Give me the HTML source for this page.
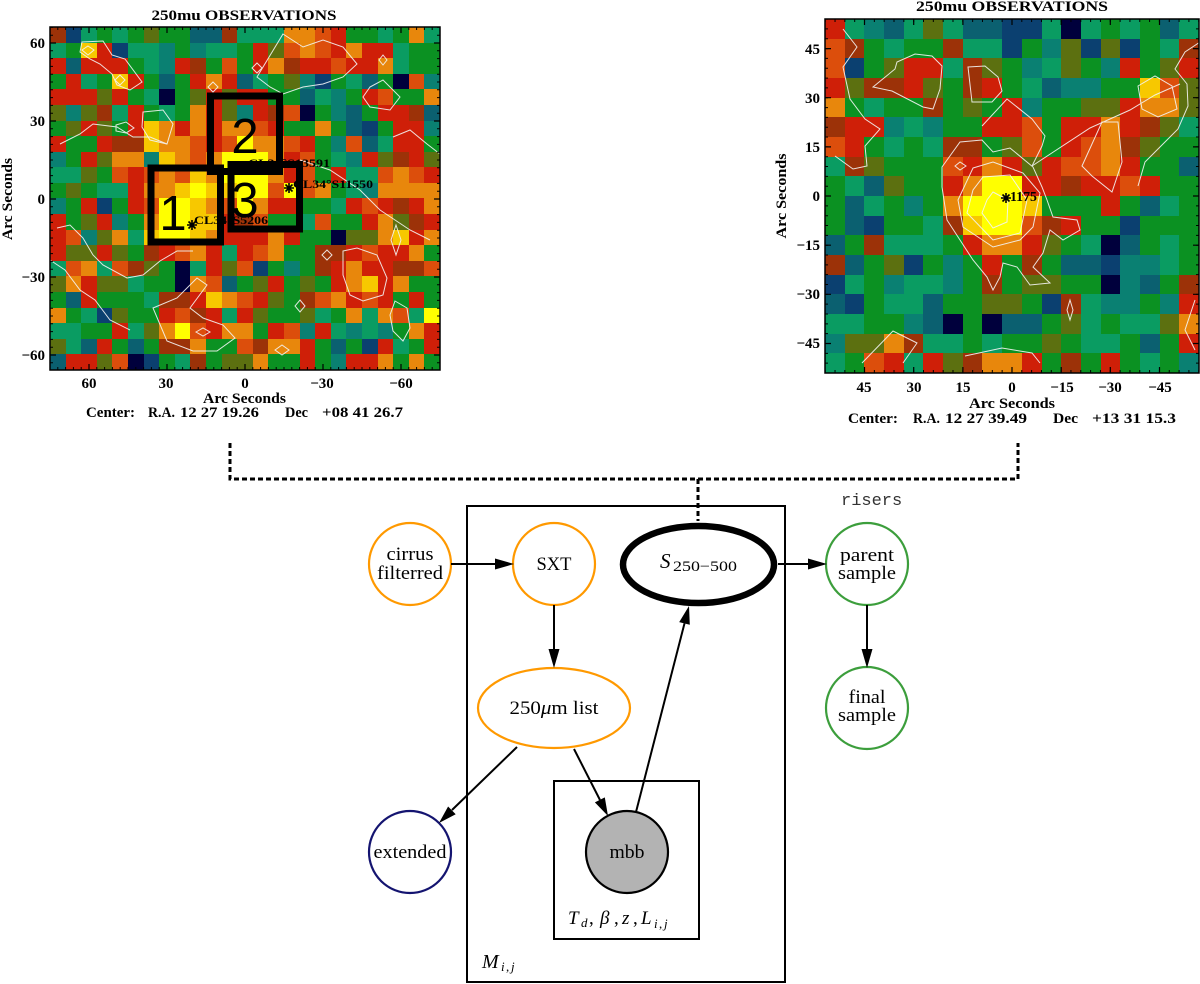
<!DOCTYPE html>
<html><head><meta charset="utf-8">
<style>
html,body{margin:0;padding:0;background:#fff;}
body{width:1200px;height:984px;position:relative;overflow:hidden;}
.hm{position:absolute;display:grid;}
.hm i{display:block;}
#L{left:50px;top:27px;width:390px;height:343px;grid-template-columns:repeat(25,1fr);grid-template-rows:repeat(22,1fr);}
#R{left:825px;top:19px;width:374px;height:354px;grid-template-columns:repeat(19,1fr);grid-template-rows:repeat(18,1fr);}
.y{background:#ffff00}.g{background:#f7c800}.o{background:#e8870c}.q{background:#dc4e0c}.r{background:#cf1f08}.d{background:#9c3208}.l{background:#5c7010}.e{background:#0b9122}.a{background:#0a9c62}.t{background:#0a8072}.k{background:#0b6070}.b{background:#0b4070}.n{background:#00003c}
svg{position:absolute;left:0;top:0;}
</style></head><body>
<div id="L" class="hm">
<i class=d></i><i class=b></i><i class=a></i><i class=e></i><i class=a></i><i class=e></i><i class=l></i><i class=e></i><i class=e></i><i class=k></i><i class=k></i><i class=d></i><i class=a></i><i class=a></i><i class=a></i><i class=o></i><i class=o></i><i class=q></i><i class=r></i><i class=e></i><i class=e></i><i class=a></i><i class=e></i><i class=o></i><i class=a></i>
<i class=a></i><i class=e></i><i class=g></i><i class=r></i><i class=b></i><i class=a></i><i class=a></i><i class=t></i><i class=e></i><i class=t></i><i class=a></i><i class=a></i><i class=e></i><i class=r></i><i class=l></i><i class=q></i><i class=o></i><i class=q></i><i class=r></i><i class=o></i><i class=r></i><i class=r></i><i class=a></i><i class=e></i><i class=e></i>
<i class=r></i><i class=k></i><i class=r></i><i class=r></i><i class=r></i><i class=e></i><i class=a></i><i class=t></i><i class=r></i><i class=d></i><i class=e></i><i class=q></i><i class=e></i><i class=r></i><i class=o></i><i class=d></i><i class=r></i><i class=r></i><i class=q></i><i class=r></i><i class=r></i><i class=o></i><i class=a></i><i class=e></i><i class=e></i>
<i class=e></i><i class=r></i><i class=a></i><i class=e></i><i class=g></i><i class=r></i><i class=e></i><i class=k></i><i class=e></i><i class=r></i><i class=o></i><i class=r></i><i class=k></i><i class=a></i><i class=e></i><i class=l></i><i class=t></i><i class=b></i><i class=e></i><i class=a></i><i class=k></i><i class=e></i><i class=n></i><i class=q></i><i class=t></i>
<i class=r></i><i class=r></i><i class=r></i><i class=l></i><i class=r></i><i class=e></i><i class=a></i><i class=n></i><i class=e></i><i class=l></i><i class=r></i><i class=l></i><i class=r></i><i class=r></i><i class=e></i><i class=e></i><i class=k></i><i class=a></i><i class=t></i><i class=e></i><i class=r></i><i class=q></i><i class=e></i><i class=e></i><i class=o></i>
<i class=l></i><i class=t></i><i class=l></i><i class=d></i><i class=a></i><i class=r></i><i class=e></i><i class=a></i><i class=e></i><i class=o></i><i class=r></i><i class=l></i><i class=t></i><i class=r></i><i class=d></i><i class=q></i><i class=n></i><i class=e></i><i class=t></i><i class=k></i><i class=e></i><i class=r></i><i class=r></i><i class=d></i><i class=k></i>
<i class=e></i><i class=l></i><i class=r></i><i class=l></i><i class=e></i><i class=r></i><i class=g></i><i class=o></i><i class=r></i><i class=o></i><i class=r></i><i class=o></i><i class=o></i><i class=q></i><i class=r></i><i class=e></i><i class=e></i><i class=o></i><i class=e></i><i class=k></i><i class=b></i><i class=e></i><i class=r></i><i class=r></i><i class=t></i>
<i class=r></i><i class=e></i><i class=e></i><i class=r></i><i class=d></i><i class=d></i><i class=g></i><i class=o></i><i class=o></i><i class=q></i><i class=r></i><i class=q></i><i class=y></i><i class=o></i><i class=o></i><i class=q></i><i class=r></i><i class=e></i><i class=t></i><i class=q></i><i class=k></i><i class=a></i><i class=r></i><i class=r></i><i class=e></i>
<i class=t></i><i class=e></i><i class=r></i><i class=l></i><i class=o></i><i class=o></i><i class=t></i><i class=g></i><i class=o></i><i class=q></i><i class=o></i><i class=y></i><i class=y></i><i class=y></i><i class=o></i><i class=r></i><i class=q></i><i class=e></i><i class=a></i><i class=t></i><i class=r></i><i class=l></i><i class=d></i><i class=r></i><i class=l></i>
<i class=a></i><i class=a></i><i class=l></i><i class=e></i><i class=q></i><i class=r></i><i class=q></i><i class=o></i><i class=q></i><i class=g></i><i class=o></i><i class=y></i><i class=y></i><i class=y></i><i class=o></i><i class=r></i><i class=q></i><i class=e></i><i class=r></i><i class=a></i><i class=a></i><i class=q></i><i class=o></i><i class=q></i><i class=r></i>
<i class=e></i><i class=l></i><i class=e></i><i class=a></i><i class=a></i><i class=r></i><i class=o></i><i class=o></i><i class=g></i><i class=y></i><i class=g></i><i class=g></i><i class=y></i><i class=y></i><i class=q></i><i class=y></i><i class=q></i><i class=o></i><i class=e></i><i class=a></i><i class=t></i><i class=o></i><i class=o></i><i class=o></i><i class=o></i>
<i class=t></i><i class=e></i><i class=r></i><i class=b></i><i class=e></i><i class=r></i><i class=q></i><i class=y></i><i class=y></i><i class=g></i><i class=o></i><i class=q></i><i class=y></i><i class=o></i><i class=r></i><i class=r></i><i class=e></i><i class=e></i><i class=a></i><i class=r></i><i class=q></i><i class=r></i><i class=d></i><i class=r></i><i class=o></i>
<i class=r></i><i class=e></i><i class=l></i><i class=r></i><i class=t></i><i class=e></i><i class=o></i><i class=y></i><i class=y></i><i class=g></i><i class=g></i><i class=r></i><i class=d></i><i class=q></i><i class=e></i><i class=e></i><i class=a></i><i class=q></i><i class=e></i><i class=e></i><i class=r></i><i class=o></i><i class=l></i><i class=d></i><i class=r></i>
<i class=r></i><i class=q></i><i class=t></i><i class=l></i><i class=o></i><i class=a></i><i class=g></i><i class=y></i><i class=y></i><i class=g></i><i class=o></i><i class=r></i><i class=r></i><i class=r></i><i class=o></i><i class=r></i><i class=e></i><i class=e></i><i class=n></i><i class=l></i><i class=l></i><i class=o></i><i class=g></i><i class=r></i><i class=o></i>
<i class=r></i><i class=l></i><i class=l></i><i class=r></i><i class=l></i><i class=e></i><i class=d></i><i class=r></i><i class=q></i><i class=o></i><i class=r></i><i class=a></i><i class=r></i><i class=q></i><i class=o></i><i class=e></i><i class=e></i><i class=d></i><i class=d></i><i class=r></i><i class=q></i><i class=r></i><i class=r></i><i class=o></i><i class=e></i>
<i class=a></i><i class=q></i><i class=o></i><i class=a></i><i class=q></i><i class=d></i><i class=l></i><i class=e></i><i class=n></i><i class=a></i><i class=r></i><i class=l></i><i class=q></i><i class=b></i><i class=e></i><i class=t></i><i class=e></i><i class=d></i><i class=r></i><i class=o></i><i class=r></i><i class=r></i><i class=d></i><i class=d></i><i class=q></i>
<i class=l></i><i class=o></i><i class=r></i><i class=l></i><i class=l></i><i class=a></i><i class=e></i><i class=e></i><i class=n></i><i class=o></i><i class=q></i><i class=k></i><i class=e></i><i class=l></i><i class=r></i><i class=e></i><i class=l></i><i class=e></i><i class=r></i><i class=o></i><i class=g></i><i class=r></i><i class=o></i><i class=e></i><i class=e></i>
<i class=e></i><i class=k></i><i class=r></i><i class=e></i><i class=e></i><i class=e></i><i class=a></i><i class=d></i><i class=d></i><i class=r></i><i class=g></i><i class=o></i><i class=q></i><i class=r></i><i class=l></i><i class=e></i><i class=d></i><i class=q></i><i class=o></i><i class=r></i><i class=q></i><i class=r></i><i class=e></i><i class=r></i><i class=e></i>
<i class=o></i><i class=e></i><i class=a></i><i class=b></i><i class=l></i><i class=e></i><i class=e></i><i class=r></i><i class=q></i><i class=d></i><i class=r></i><i class=a></i><i class=r></i><i class=l></i><i class=e></i><i class=e></i><i class=l></i><i class=a></i><i class=e></i><i class=o></i><i class=a></i><i class=o></i><i class=q></i><i class=a></i><i class=y></i>
<i class=a></i><i class=a></i><i class=e></i><i class=e></i><i class=r></i><i class=a></i><i class=l></i><i class=o></i><i class=y></i><i class=q></i><i class=r></i><i class=o></i><i class=o></i><i class=e></i><i class=r></i><i class=q></i><i class=t></i><i class=r></i><i class=a></i><i class=t></i><i class=a></i><i class=t></i><i class=e></i><i class=o></i><i class=r></i>
<i class=l></i><i class=a></i><i class=k></i><i class=r></i><i class=e></i><i class=k></i><i class=e></i><i class=d></i><i class=d></i><i class=o></i><i class=e></i><i class=e></i><i class=q></i><i class=d></i><i class=o></i><i class=o></i><i class=r></i><i class=e></i><i class=k></i><i class=e></i><i class=b></i><i class=r></i><i class=a></i><i class=e></i><i class=r></i>
<i class=k></i><i class=r></i><i class=r></i><i class=l></i><i class=q></i><i class=n></i><i class=b></i><i class=e></i><i class=a></i><i class=d></i><i class=e></i><i class=l></i><i class=l></i><i class=o></i><i class=e></i><i class=e></i><i class=r></i><i class=e></i><i class=t></i><i class=r></i><i class=r></i><i class=o></i><i class=e></i><i class=o></i><i class=e></i>
</div>
<div id="R" class="hm">
<i class=r></i><i class=a></i><i class=t></i><i class=k></i><i class=a></i><i class=l></i><i class=a></i><i class=k></i><i class=k></i><i class=b></i><i class=b></i><i class=a></i><i class=n></i><i class=a></i><i class=e></i><i class=a></i><i class=e></i><i class=k></i><i class=a></i>
<i class=q></i><i class=d></i><i class=e></i><i class=a></i><i class=e></i><i class=e></i><i class=d></i><i class=a></i><i class=a></i><i class=b></i><i class=e></i><i class=t></i><i class=l></i><i class=b></i><i class=l></i><i class=b></i><i class=e></i><i class=a></i><i class=d></i>
<i class=q></i><i class=b></i><i class=e></i><i class=l></i><i class=r></i><i class=r></i><i class=a></i><i class=d></i><i class=l></i><i class=e></i><i class=t></i><i class=a></i><i class=l></i><i class=e></i><i class=t></i><i class=r></i><i class=e></i><i class=l></i><i class=r></i>
<i class=r></i><i class=l></i><i class=d></i><i class=d></i><i class=r></i><i class=l></i><i class=e></i><i class=d></i><i class=r></i><i class=e></i><i class=a></i><i class=k></i><i class=t></i><i class=t></i><i class=e></i><i class=e></i><i class=g></i><i class=q></i><i class=l></i>
<i class=o></i><i class=e></i><i class=a></i><i class=e></i><i class=e></i><i class=d></i><i class=e></i><i class=l></i><i class=e></i><i class=r></i><i class=t></i><i class=e></i><i class=e></i><i class=l></i><i class=l></i><i class=r></i><i class=o></i><i class=o></i><i class=l></i>
<i class=d></i><i class=r></i><i class=r></i><i class=t></i><i class=a></i><i class=t></i><i class=e></i><i class=e></i><i class=r></i><i class=r></i><i class=q></i><i class=e></i><i class=r></i><i class=r></i><i class=o></i><i class=r></i><i class=d></i><i class=l></i><i class=a></i>
<i class=q></i><i class=r></i><i class=e></i><i class=a></i><i class=e></i><i class=a></i><i class=d></i><i class=d></i><i class=e></i><i class=l></i><i class=q></i><i class=e></i><i class=r></i><i class=q></i><i class=o></i><i class=d></i><i class=l></i><i class=e></i><i class=e></i>
<i class=a></i><i class=d></i><i class=l></i><i class=e></i><i class=e></i><i class=e></i><i class=q></i><i class=r></i><i class=o></i><i class=r></i><i class=l></i><i class=r></i><i class=q></i><i class=q></i><i class=o></i><i class=r></i><i class=e></i><i class=e></i><i class=k></i>
<i class=e></i><i class=a></i><i class=k></i><i class=l></i><i class=e></i><i class=e></i><i class=r></i><i class=o></i><i class=y></i><i class=y></i><i class=r></i><i class=r></i><i class=d></i><i class=r></i><i class=r></i><i class=q></i><i class=r></i><i class=e></i><i class=e></i>
<i class=e></i><i class=k></i><i class=a></i><i class=e></i><i class=t></i><i class=e></i><i class=o></i><i class=y></i><i class=y></i><i class=y></i><i class=g></i><i class=e></i><i class=e></i><i class=e></i><i class=r></i><i class=e></i><i class=k></i><i class=a></i><i class=e></i>
<i class=e></i><i class=k></i><i class=b></i><i class=e></i><i class=e></i><i class=a></i><i class=d></i><i class=g></i><i class=y></i><i class=y></i><i class=q></i><i class=d></i><i class=r></i><i class=e></i><i class=e></i><i class=b></i><i class=e></i><i class=e></i><i class=e></i>
<i class=k></i><i class=e></i><i class=d></i><i class=a></i><i class=a></i><i class=a></i><i class=e></i><i class=r></i><i class=o></i><i class=o></i><i class=r></i><i class=l></i><i class=e></i><i class=a></i><i class=n></i><i class=k></i><i class=e></i><i class=a></i><i class=e></i>
<i class=d></i><i class=k></i><i class=e></i><i class=l></i><i class=b></i><i class=e></i><i class=t></i><i class=e></i><i class=r></i><i class=e></i><i class=d></i><i class=e></i><i class=k></i><i class=k></i><i class=b></i><i class=t></i><i class=t></i><i class=a></i><i class=e></i>
<i class=b></i><i class=a></i><i class=e></i><i class=t></i><i class=a></i><i class=a></i><i class=t></i><i class=e></i><i class=d></i><i class=e></i><i class=l></i><i class=l></i><i class=e></i><i class=e></i><i class=n></i><i class=t></i><i class=k></i><i class=e></i><i class=d></i>
<i class=k></i><i class=b></i><i class=e></i><i class=a></i><i class=a></i><i class=k></i><i class=e></i><i class=e></i><i class=l></i><i class=l></i><i class=e></i><i class=b></i><i class=d></i><i class=a></i><i class=t></i><i class=t></i><i class=e></i><i class=t></i><i class=r></i>
<i class=a></i><i class=a></i><i class=e></i><i class=e></i><i class=t></i><i class=k></i><i class=n></i><i class=e></i><i class=n></i><i class=k></i><i class=k></i><i class=e></i><i class=l></i><i class=a></i><i class=e></i><i class=a></i><i class=a></i><i class=l></i><i class=o></i>
<i class=t></i><i class=l></i><i class=l></i><i class=o></i><i class=d></i><i class=a></i><i class=a></i><i class=e></i><i class=a></i><i class=e></i><i class=e></i><i class=l></i><i class=e></i><i class=a></i><i class=a></i><i class=e></i><i class=k></i><i class=e></i><i class=r></i>
<i class=a></i><i class=e></i><i class=q></i><i class=r></i><i class=a></i><i class=r></i><i class=l></i><i class=d></i><i class=o></i><i class=o></i><i class=r></i><i class=e></i><i class=d></i><i class=e></i><i class=r></i><i class=e></i><i class=a></i><i class=e></i><i class=t></i>
</div>

<svg width="1200" height="984" viewBox="0 0 1200 984" xmlns="http://www.w3.org/2000/svg">
<!-- contours left -->
<g fill="none" stroke="#f4f4f4" stroke-width="1" opacity="0.9">
<polygon points="82,42 103,41 112,55 125,59 142,82 130,90 117,85 112,74 100,64 90,59 80,52"/>
<polygon points="143,112 163,110 173,124 167,144 150,140 142,127"/>
<polygon points="283,34 303,47 323,40 343,47 357,64 343,77 323,84 303,87 283,94 270,87 257,77"/>
<polygon points="370,87 383,80 400,97 390,110 370,107 363,97"/>
<polyline points="60,144 80,134 93,124 117,127 133,137 150,137 167,144"/>
<polyline points="393,137 410,130 427,144 440,154"/>
<polygon points="395,301 407,308 410,328 403,341 393,331 390,315"/>
<polygon points="153,308 177,298 197,278 207,285 190,308 203,318 223,325 235,338 217,351 193,351 167,341"/>
<polyline points="57,228 70,225 83,238 93,255 103,265 127,278 143,275 160,261 177,251 193,251"/>
<polygon points="343,251 357,248 377,255 387,278 383,295 363,301 350,295 343,275"/>
<polygon points="257,63 262,68 257,73 252,68"/>
<polygon points="213,82 218,87 213,92 208,87"/>
<polygon points="383,55 387,60 383,65 379,60"/>
<polygon points="120,75 125,80 120,85 115,80"/>
<polygon points="88,46 94,50 88,55 82,50"/>
<polygon points="300,300 305,306 300,312 295,306"/>
<polygon points="327,250 332,255 327,260 322,255"/>
<polygon points="116,125 126,122 134,128 126,133 116,131"/>
<polygon points="396,225 401,240 396,255 391,240"/>
<polygon points="196,332 203,328 210,332 203,336"/>
<polygon points="275,350 282,345 289,350 282,355"/>
<polyline points="50,260 65,270 80,290 95,300 110,320 130,330"/>
<polyline points="300,160 330,170 360,190 380,210 410,230 430,240"/>
</g>
<!-- contours right -->
<g fill="none" stroke="#f4f4f4" stroke-width="1" opacity="0.9">
<polygon points="993,192 1008,200 1007,222 993,228 982,213 987,200"/>
<polygon points="983,177 1010,175 1027,200 1020,233 993,240 967,213 973,190"/>
<polygon points="973,168 993,162 1023,173 1040,193 1033,227 1020,240 993,247 963,227 958,200"/>
<polygon points="942,167 960,142 982,140 993,152 1010,148 1033,167 1042,187 1047,200 1053,217 1077,220 1080,230 1063,240 1050,230 1043,253 1033,267 1050,283 1030,285 1017,267 1003,263 1000,277 993,290 987,277 973,260 960,240 947,220 942,187"/>
<polygon points="873,87 895,69 897,62 915,54 932,56 942,66 940,89 933,109 923,107 892,91"/>
<polygon points="968,67 985,66 998,77 1002,91 992,102 972,102"/>
<polyline points="1200,42 1185,52 1175,69 1187,84 1188,106 1178,129 1158,149 1145,162 1138,186"/>
<polygon points="1138,86 1155,76 1172,86 1177,109 1158,117 1142,109"/>
<polygon points="1082,166 1102,122 1118,122 1122,162 1112,192 1092,176"/>
<polyline points="843,29 857,47 843,67 850,99 865,119 880,129 865,146 867,166 853,169 835,156"/>
<polyline points="982,126 1007,99 1032,119 1045,136 1042,146 1032,166"/>
<polyline points="1032,166 1090,128 1130,110 1155,95 1180,84"/>
<polyline points="862,363 893,331 917,343 903,363"/>
<polyline points="965,356 1002,348 1032,353 1040,363"/>
<polygon points="1070,300 1073,310 1070,320 1067,310"/>
<polygon points="955,166 960,162 966,166 960,170"/>
<polyline points="1195,300 1185,330 1195,350"/>
</g>

<!-- left plot frame & ticks -->
<g stroke="#000" fill="none">
<rect x="50" y="27" width="390" height="343" stroke-width="1.5"/>
<line x1="49.5" y1="368.5" x2="440" y2="368.5" stroke-width="3" stroke-dasharray="1 6.8"/>
<line x1="49.5" y1="28.5" x2="440" y2="28.5" stroke-width="3" stroke-dasharray="1 6.8"/>
<line x1="51.5" y1="26.9" x2="51.5" y2="370" stroke-width="3" stroke-dasharray="1 6.8"/>
<line x1="438.5" y1="26.9" x2="438.5" y2="370" stroke-width="3" stroke-dasharray="1 6.8"/>
<path stroke-width="1.2" d="M89,364V370M167,364V370M245,364V370M323,364V370M401,364V370M89,27V33M167,27V33M245,27V33M323,27V33M401,27V33M50,43H56M50,121H56M50,199H56M50,277H56M50,355H56M434,43H440M434,121H440M434,199H440M434,277H440M434,355H440"/>
</g>
<!-- right plot frame & ticks -->
<g stroke="#000" fill="none">
<rect x="825" y="19" width="374" height="354" stroke-width="1.5"/>
<line x1="824.7" y1="371.5" x2="1199" y2="371.5" stroke-width="3" stroke-dasharray="1 8.83"/>
<line x1="824.7" y1="20.5" x2="1199" y2="20.5" stroke-width="3" stroke-dasharray="1 8.83"/>
<line x1="826.5" y1="18.6" x2="826.5" y2="373" stroke-width="3" stroke-dasharray="1 8.83"/>
<line x1="1197.5" y1="18.6" x2="1197.5" y2="373" stroke-width="3" stroke-dasharray="1 8.83"/>
<path stroke-width="1.2" d="M864.5,367V373M913.7,367V373M962.9,367V373M1012,367V373M1061.2,367V373M1110.3,367V373M1159.5,367V373M864.5,19V25M913.7,19V25M962.9,19V25M1012,19V25M1061.2,19V25M1110.3,19V25M1159.5,19V25M825,48.6H831M825,97.7H831M825,146.9H831M825,196H831M825,245.2H831M825,294.3H831M825,343.5H831M1193,48.6H1199M1193,97.7H1199M1193,146.9H1199M1193,196H1199M1193,245.2H1199M1193,294.3H1199M1193,343.5H1199"/>
</g>

<!-- overlay boxes on left map -->
<g fill="none" stroke="#000" stroke-width="7">
<rect x="210.5" y="96" width="69" height="75.5"/>
<rect x="151" y="168" width="69.5" height="74"/>
<rect x="231" y="164.5" width="68.5" height="64.5"/>
</g>
<g font-family="Liberation Sans, sans-serif" font-size="49" fill="#000" text-anchor="middle">
<text x="173" y="230">1</text>
<text x="245" y="153">2</text>
<text x="245" y="217">3</text>
</g>
<g font-family="Liberation Serif, serif" font-weight="bold" font-size="12" fill="#000">
<text x="248" y="167" textLength="82" lengthAdjust="spacingAndGlyphs">CL34°S13591</text>
<text x="293" y="188" textLength="80" lengthAdjust="spacingAndGlyphs">CL34°S11550</text>
<text x="194" y="224" textLength="74" lengthAdjust="spacingAndGlyphs">CL34°S5206</text>
<text x="1010" y="201" font-size="14" textLength="27" lengthAdjust="spacingAndGlyphs">1175</text>
</g>
<g stroke="#000" stroke-width="1.6">
<path d="M187,225H197M192,220V230M188.5,221.5L195.5,228.5M195.5,221.5L188.5,228.5"/>
<path d="M284,188H294M289,183V193M285.5,184.5L292.5,191.5M292.5,184.5L285.5,191.5"/>
<path d="M1001,198H1011M1006,193V203M1002.5,194.5L1009.5,201.5M1009.5,194.5L1002.5,201.5"/>
</g>

<!-- left axes text -->
<g font-family="Liberation Serif, serif" font-weight="bold" font-size="15" fill="#000">
<text x="244" y="20" text-anchor="middle" textLength="185" lengthAdjust="spacingAndGlyphs">250mu OBSERVATIONS</text>
<text x="45" y="48" text-anchor="end">60</text>
<text x="45" y="126" text-anchor="end">30</text>
<text x="45" y="204" text-anchor="end">0</text>
<text x="45" y="282" text-anchor="end">−30</text>
<text x="45" y="360" text-anchor="end">−60</text>
<text x="89" y="388" text-anchor="middle">60</text>
<text x="166" y="388" text-anchor="middle">30</text>
<text x="245" y="388" text-anchor="middle">0</text>
<text x="322" y="388" text-anchor="middle">−30</text>
<text x="401" y="388" text-anchor="middle">−60</text>
<text x="203" y="403" textLength="83" lengthAdjust="spacingAndGlyphs">Arc Seconds</text>
<text x="86" y="417" textLength="49" lengthAdjust="spacingAndGlyphs">Center:</text>
<text x="148" y="417" textLength="27" lengthAdjust="spacingAndGlyphs">R.A.</text>
<text x="180" y="417" textLength="79" lengthAdjust="spacingAndGlyphs">12 27 19.26</text>
<text x="285" y="417" textLength="23" lengthAdjust="spacingAndGlyphs">Dec</text>
<text x="322" y="417" textLength="81" lengthAdjust="spacingAndGlyphs">+08 41 26.7</text>
<text transform="translate(12,199) rotate(-90)" text-anchor="middle" textLength="82" lengthAdjust="spacingAndGlyphs">Arc Seconds</text>
</g>
<!-- right axes text -->
<g font-family="Liberation Serif, serif" font-weight="bold" font-size="15" fill="#000">
<text x="1012" y="11" text-anchor="middle" textLength="192" lengthAdjust="spacingAndGlyphs">250mu OBSERVATIONS</text>
<text x="820" y="54" text-anchor="end">45</text>
<text x="820" y="103" text-anchor="end">30</text>
<text x="820" y="152" text-anchor="end">15</text>
<text x="820" y="201" text-anchor="end">0</text>
<text x="820" y="250" text-anchor="end">−15</text>
<text x="820" y="299" text-anchor="end">−30</text>
<text x="820" y="348" text-anchor="end">−45</text>
<text x="864" y="392" text-anchor="middle">45</text>
<text x="914" y="392" text-anchor="middle">30</text>
<text x="963" y="392" text-anchor="middle">15</text>
<text x="1012" y="392" text-anchor="middle">0</text>
<text x="1062" y="392" text-anchor="middle">−15</text>
<text x="1110" y="392" text-anchor="middle">−30</text>
<text x="1160" y="392" text-anchor="middle">−45</text>
<text x="969" y="408" textLength="86" lengthAdjust="spacingAndGlyphs">Arc Seconds</text>
<text x="848" y="423" textLength="50" lengthAdjust="spacingAndGlyphs">Center:</text>
<text x="913" y="423" textLength="27" lengthAdjust="spacingAndGlyphs">R.A.</text>
<text x="945" y="423" textLength="82" lengthAdjust="spacingAndGlyphs">12 27 39.49</text>
<text x="1053" y="423" textLength="25" lengthAdjust="spacingAndGlyphs">Dec</text>
<text x="1092" y="423" textLength="84" lengthAdjust="spacingAndGlyphs">+13 31 15.3</text>
<text transform="translate(786,196) rotate(-90)" text-anchor="middle" textLength="85" lengthAdjust="spacingAndGlyphs">Arc Seconds</text>
</g>

<!-- dashed connectors -->
<g fill="none" stroke="#000" stroke-width="3" stroke-dasharray="5 3">
<path d="M230,443V479H1018V443"/>
<path d="M698,479V521"/>
</g>

<!-- plates -->
<rect x="467" y="506" width="318" height="476" fill="none" stroke="#000" stroke-width="2"/>
<rect x="554" y="781" width="145" height="158" fill="none" stroke="#000" stroke-width="2"/>

<!-- nodes -->
<g stroke-width="2.2" fill="#fff">
<circle cx="410" cy="564" r="41" stroke="#ff9900"/>
<circle cx="554" cy="564" r="41" stroke="#ff9900"/>
<ellipse cx="554" cy="708" rx="76" ry="40" stroke="#ff9900"/>
<circle cx="867" cy="564" r="41" stroke="#3c9e3c"/>
<circle cx="867" cy="708" r="41" stroke="#3c9e3c"/>
<circle cx="410" cy="852" r="41" stroke="#141470"/>
<circle cx="627" cy="852" r="41" stroke="#000" fill="#b3b3b3"/>
</g>
<ellipse cx="698.5" cy="564.5" rx="75.5" ry="38.5" fill="#fff" stroke="#000" stroke-width="6.5"/>

<!-- edges -->
<g stroke="#000" stroke-width="2" fill="none">
<line x1="451" y1="564" x2="497" y2="564"/>
<line x1="554" y1="605" x2="554" y2="650"/>
<line x1="517" y1="747" x2="452" y2="810"/>
<line x1="574" y1="749" x2="600" y2="800"/>
<line x1="636" y1="812" x2="684.5" y2="623.4"/>
<line x1="778" y1="564" x2="809" y2="564"/>
<line x1="867" y1="605" x2="867" y2="650"/>
</g>
<g fill="#000">
<polygon points="514,564 495,558.5 495,569.5"/>
<polygon points="554,668 548.5,649 559.5,649"/>
<polygon points="439,823 448.1,806.5 455.7,814.3"/>
<polygon points="608,816 594.9,802.4 604.8,797.4"/>
<polygon points="689,606 689.8,624.8 679.2,622.1"/>
<polygon points="827,564 808,558.5 808,569.5"/>
<polygon points="867,668 861.5,649 872.5,649"/>
</g>

<!-- node labels -->
<g font-family="Liberation Serif, serif" font-size="19" fill="#000" text-anchor="middle">
<text x="410" y="560" textLength="47" lengthAdjust="spacingAndGlyphs">cirrus</text>
<text x="410" y="579" textLength="66" lengthAdjust="spacingAndGlyphs">filterred</text>
<text x="554" y="570" textLength="35" lengthAdjust="spacingAndGlyphs">SXT</text>
<text x="554" y="714" textLength="89" lengthAdjust="spacingAndGlyphs">250<tspan font-style="italic">μ</tspan>m list</text>
<text x="867" y="561" textLength="54" lengthAdjust="spacingAndGlyphs">parent</text>
<text x="867" y="579" textLength="58" lengthAdjust="spacingAndGlyphs">sample</text>
<text x="867" y="703" textLength="37" lengthAdjust="spacingAndGlyphs">final</text>
<text x="867" y="721" textLength="58" lengthAdjust="spacingAndGlyphs">sample</text>
<text x="410" y="858" textLength="73" lengthAdjust="spacingAndGlyphs">extended</text>
<text x="627" y="858" textLength="35" lengthAdjust="spacingAndGlyphs">mbb</text>
</g>
<g font-family="Liberation Serif, serif" fill="#000">
<text x="660" y="568" font-size="21" font-style="italic">S</text>
<text x="673" y="571" font-size="15" textLength="64" lengthAdjust="spacingAndGlyphs">250−500</text>
<g font-size="19" font-style="italic">
<text x="568" y="924">T</text>
<text x="581" y="927" font-size="13">d</text>
<text x="589" y="924" font-style="normal">,</text>
<text x="600" y="924">β</text>
<text x="614" y="924" font-style="normal">,</text>
<text x="622" y="924">z</text>
<text x="633" y="924" font-style="normal">,</text>
<text x="641" y="924">L</text>
<text x="654" y="928" font-size="13">i</text>
<text x="659" y="928" font-size="13" font-style="normal">,</text>
<text x="664" y="928" font-size="13">j</text>
</g>
<text x="482" y="968" font-size="20" font-style="italic">M</text>
<text x="501" y="971" font-size="13" font-style="italic">i</text>
<text x="506" y="971" font-size="13">,</text>
<text x="511" y="971" font-size="13" font-style="italic">j</text>
</g>
<text x="841" y="505" font-family="Liberation Mono, monospace" font-size="17" fill="#333">risers</text>
</svg>
</body></html>
